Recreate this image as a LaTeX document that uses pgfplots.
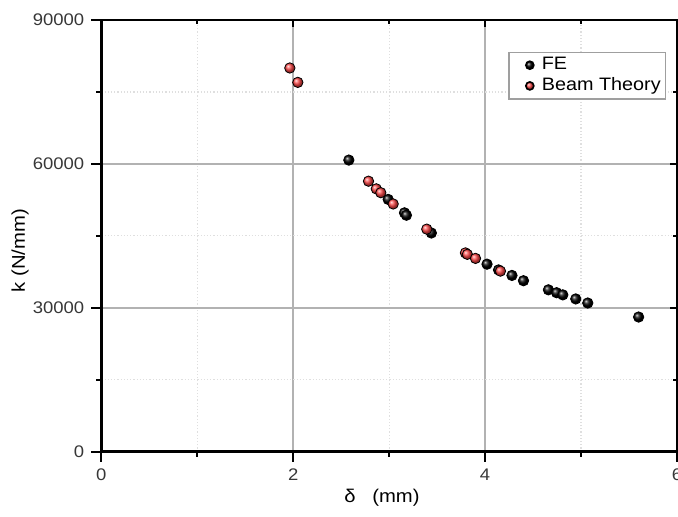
\documentclass[border=0pt]{standalone}
\usepackage{fontspec}
\setmainfont{Liberation Sans}[FakeStretch=1.1]
\usepackage{pgfplots}
\pgfplotsset{compat=1.18}
\definecolor{btred}{RGB}{250,70,70}
\definecolor{ticktext}{RGB}{55,55,55}
\begin{document}
\begin{tikzpicture}
\useasboundingbox (-50.65pt,-32.15pt) rectangle (288.35pt,225.85pt);
\begin{axis}[
  at={(0pt,0pt)}, anchor=south west,
  scale only axis, width=287.85pt, height=215.85pt,
  xmin=0, xmax=6, ymin=0, ymax=90000,
  xtick={0,2,4,6}, ytick={0,30000,60000,90000},
  minor xtick={1,3,5}, minor ytick={15000,45000,75000},
  scaled x ticks=false, scaled y ticks=false,
  /pgf/number format/1000 sep={},
  /pgf/number format/assume math mode=true,
  xtick pos=left, ytick pos=left,
  tick align=outside,
  major tick length=5pt, minor tick length=2.5pt,
  tick style={black, line width=1pt},
  grid=both,
  major grid style={gray!60, line width=0.8pt},
  minor grid style={gray!25, line width=0.6pt, densely dotted},
  axis line style={line width=1.3pt},
  tick label style={font=\fontsize{8.4}{10}\selectfont, text=ticktext},
  xlabel={δ\hspace{0.9em}(mm)},
  ylabel={k\,\,(N/mm)},
  label style={font=\fontsize{9.2}{11}\selectfont},
  xlabel style={at={(axis description cs:0.4876,-0.1061)}, anchor=center},
  ylabel style={at={(axis description cs:-0.1412,0.4654)}, anchor=center},
  legend style={at={(axis description cs:0.7065,0.9266)}, anchor=north west,
    draw=gray!75, line width=0.8pt, font=\fontsize{9}{10.5}\selectfont,
    inner xsep=0.5pt, inner ysep=0.5pt, row sep=-1.5pt},
  legend cell align=left,
  legend image code/.code={\path[draw=none,fill=none] (0pt,-3pt) rectangle (14pt,3pt);
    \draw[#1, mark size=2pt] plot coordinates {(10pt,0pt)};},
]
\addplot[only marks, mark=ball, mark size=2.6pt, mark options={ball color=black}]
  coordinates {
  (2.58,60800) (2.99,52600) (3.16,49800) (3.18,49300) (3.44,45600)
  (4.02,39100) (4.14,37900) (4.28,36750) (4.40,35650) (4.66,33750)
  (4.745,33150) (4.81,32700) (4.945,31850) (5.07,31000) (5.60,28080)
  };
\addlegendentry{FE}
\addplot[only marks, mark=ball, mark size=2.6pt, mark options={ball color=btred}]
  coordinates {
  (1.965,80000) (2.048,77000) (2.785,56400) (2.866,54800) (2.913,54000)
  (3.042,51650) (3.392,46400) (3.795,41450) (3.815,41150) (3.900,40300)
  (4.16,37650)
  };
\addlegendentry{Beam Theory}
\end{axis}
\begin{axis}[
  at={(0pt,0pt)}, anchor=south west,
  scale only axis, width=287.85pt, height=215.85pt,
  xmin=0, xmax=6, ymin=0, ymax=90000,
  xtick={0,2,4,6}, ytick={0,30000,60000,90000},
  minor xtick={1,3,5}, minor ytick={15000,45000,75000},
  xticklabels={}, yticklabels={},
  scaled x ticks=false, scaled y ticks=false,
  xtick pos=right, ytick pos=right,
  tick align=inside,
  major tick length=3.5pt, minor tick length=2pt,
  tick style={black, line width=1pt},
  axis line style={line width=1.3pt},
]
\end{axis}
\end{tikzpicture}
\end{document}
